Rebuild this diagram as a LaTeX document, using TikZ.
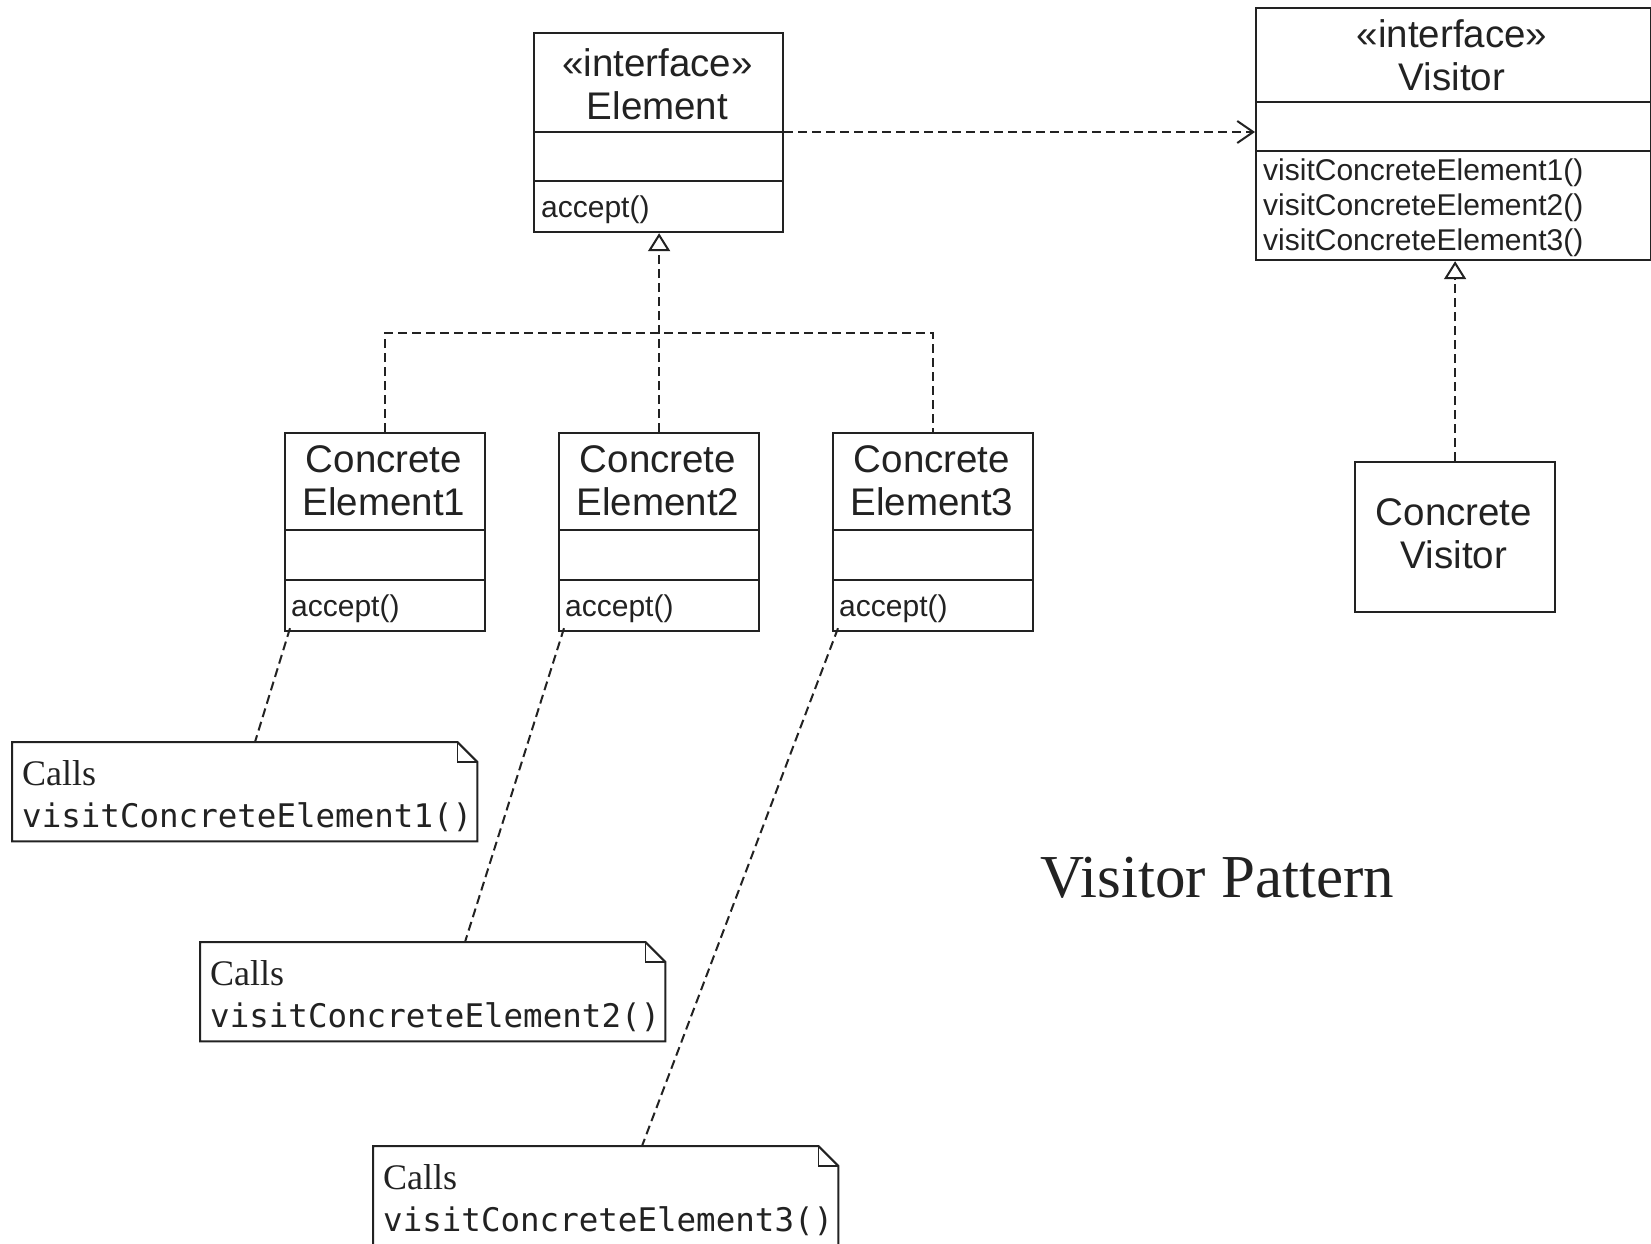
\documentclass[tikz,border=0pt]{standalone}
\usepackage{fontspec}
\setmainfont{Liberation Serif}
\setsansfont{Liberation Sans}
\setmonofont{DejaVu Sans Mono}
\usetikzlibrary{arrows.meta}

\definecolor{ink}{HTML}{222222}

\begin{document}
\begin{tikzpicture}[x=1pt,y=-1pt,
  every node/.style={text=ink},
  umlbox/.style={draw=ink, line width=2.2pt, fill=white, inner sep=0pt, anchor=north west},
  sepline/.style={draw=ink, line width=2pt},
  titletext/.style={font=\sffamily\fontsize{38.5}{43}\selectfont, align=center, inner sep=0pt},
  optext/.style={font=\sffamily\fontsize{30}{35}\selectfont, align=left, inner sep=0pt, anchor=west},
  dashline/.style={draw=ink, line width=2pt, dash pattern=on 9pt off 5pt},
  realize/.style={dashline, -{Triangle[open, length=18pt, width=22pt]}},
  depend/.style={dashline, -{Straight Barb[length=16pt, width=22pt]}},
  notebox/.style={minimum width=465pt, minimum height=99pt, inner sep=0pt, anchor=north west},
  noteline/.style={draw=ink, line width=2pt, fill=white},
  callstext/.style={font=\rmfamily\fontsize{36}{40}\selectfont, inner sep=0pt, anchor=base west},
  codetext/.style={font=\ttfamily\fontsize{32.5}{36}\selectfont, inner sep=0pt, anchor=base west},
]
\fill[white] (0,0) rectangle (1651,1244);
\useasboundingbox (0,0) rectangle (1651,1244);

% Element interface
\node[umlbox, minimum width=249pt, minimum height=199pt] (elem) at (533,32) {};
\draw[sepline] (elem.west |- 0,132) -- (elem.east |- 0,132);
\draw[sepline] (elem.west |- 0,181) -- (elem.east |- 0,181);
\node[titletext] (elemT) at (657.5,84) {«interface»\\Element};
\node[optext] (elemOp) at (541,210) {accept()};

% Visitor interface
\node[umlbox, minimum width=395pt, minimum height=252pt] (vis) at (1255,7) {};
\draw[sepline] (vis.west |- 0,102) -- (vis.east |- 0,102);
\draw[sepline] (vis.west |- 0,151) -- (vis.east |- 0,151);
\node[titletext] (visT) at (1452,55.5) {«interface»\\Visitor};
\node[optext] (visOp) at (1263,208) {visitConcreteElement1()\\visitConcreteElement2()\\visitConcreteElement3()};

% Concrete elements
\foreach \n/\x/\k in {ce1/284/1, ce2/558/2, ce3/832/3} {
  \node[umlbox, minimum width=200pt, minimum height=198pt] (\n) at (\x,432) {};
  \draw[sepline] (\n.west |- 0,530) -- (\n.east |- 0,530);
  \draw[sepline] (\n.west |- 0,580) -- (\n.east |- 0,580);
  \node[titletext, text width=200pt] (\n T) at (\x+100,481) {Concrete\\Element\k};
  \node[optext] (\n Op) at (\x+7,609) {accept()};
}

% Concrete visitor
\node[umlbox, minimum width=200pt, minimum height=150pt] (cv) at (1354,461) {};
\node[titletext] (cvT) at (1454,534) {Concrete\\Visitor};

% Realization of Element
\coordinate (hub) at (657,333);
\draw[dashline] (ce1.north) -- (ce1.north |- hub) -- (ce3.north |- hub) -- (ce3.north);
\draw[realize] (ce2.north) -- (ce2.north |- elem.south);

% Realization of Visitor
\draw[realize] (cv.north) -- (cv.north |- vis.south);

% Dependency Element -> Visitor
\draw[depend] (elem.east |- 0,132) -- (vis.west |- 0,132);

% Notes
\foreach \n/\x/\y/\k in {note1/12/742/1, note2/200/942/2, note3/373/1146/3} {
  \node[notebox] (\n) at (\x,\y) {};
  \draw[noteline] (\n.north west) -- ([xshift=-20pt]\n.north east)
    -- ([yshift=-20pt]\n.north east) -- (\n.south east) -- (\n.south west) -- cycle;
  \draw[sepline, line width=1.6pt] ([xshift=-20pt]\n.north east) -- ([xshift=-20pt,yshift=-20pt]\n.north east)
    -- ([yshift=-20pt]\n.north east);
  \node[callstext] (\n a) at (\x+10,\y+43) {Calls};
  \node[codetext] (\n b) at (\x+10,\y+85) {visitConcreteElement\k()};
}

% Note attachments
\coordinate (att1) at (255,742);
\coordinate (att2) at (465,942);
\coordinate (att3) at (642,1146);
\draw[dashline] ([xshift=6pt,yshift=4pt]ce1.south west) -- (att1);
\draw[dashline] ([xshift=6pt,yshift=4pt]ce2.south west) -- (att2);
\draw[dashline] ([xshift=6pt,yshift=4pt]ce3.south west) -- (att3);

% Caption
\node[font=\rmfamily\fontsize{61}{70}\selectfont, anchor=base west, inner sep=0pt] (caption) at (1040,897) {Visitor Pattern};
\end{tikzpicture}
\end{document}
